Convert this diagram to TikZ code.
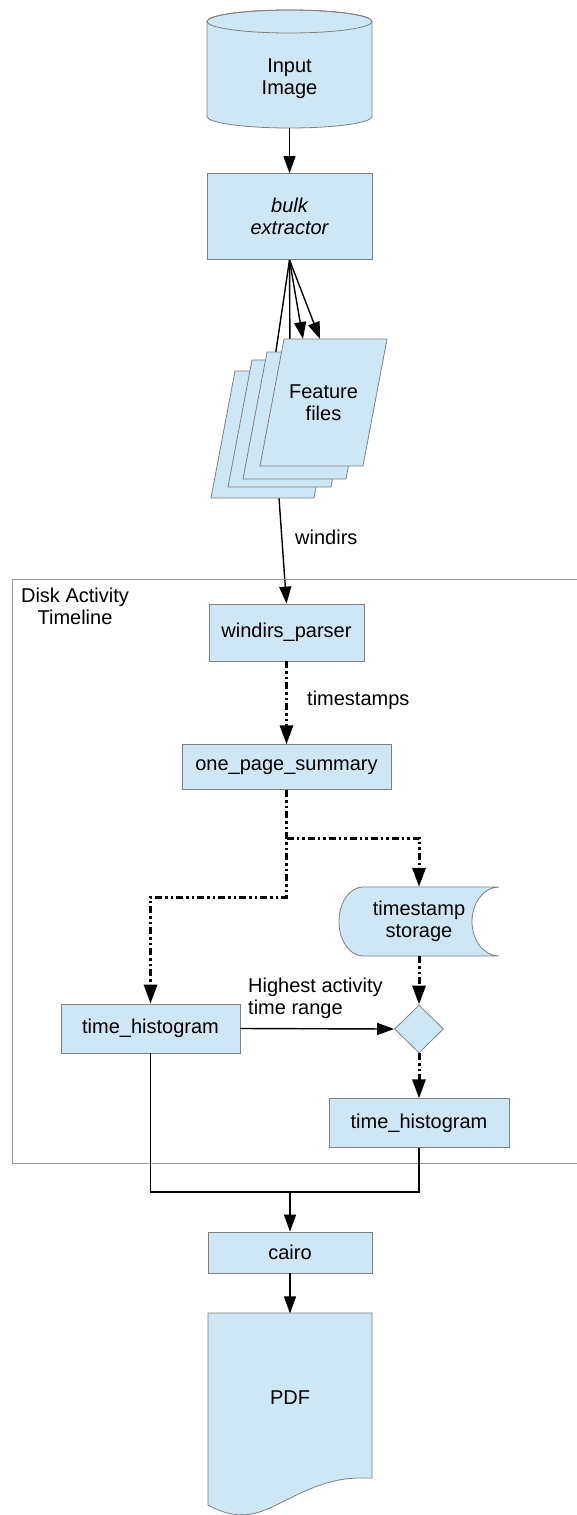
\documentclass[tikz,border=0pt]{standalone}
\usepackage{fontspec}
\setmainfont{Liberation Sans}
\usepackage{xcolor}
\usetikzlibrary{positioning}
\usetikzlibrary{shapes.geometric}
\usetikzlibrary{arrows.meta}
\usetikzlibrary{backgrounds}
\newcommand{\diagfont}{\fontsize{20}{22}\selectfont}
\definecolor{boxcolor}{RGB}{207, 231, 245}
\definecolor{edgecolor}{RGB}{128, 128, 128}
\definecolor{framecolor}{RGB}{150, 150, 150}
\tikzstyle{block} = [rectangle, draw=edgecolor, fill=boxcolor, line width=0.8pt, inner sep=0pt, align=center]
\tikzstyle{decision} = [diamond, draw=edgecolor, fill=boxcolor, line width=0.8pt, minimum width=49pt, minimum height=48pt, inner sep=0pt]
\tikzstyle{textonly} = [inner sep=0pt, align=center]
\tikzstyle{outline} = [draw=edgecolor, fill=boxcolor, line width=0.8pt]
\tikzstyle{flow} = [-{Triangle[length=17pt, width=12pt]}, line width=1.4pt]
\tikzstyle{dataflow} = [-{Triangle[length=19pt, width=13pt]}, line width=3pt, dash pattern=on 7pt off 3pt on 2.5pt off 3pt on 2.5pt off 3pt]
\tikzstyle{wire} = [line width=1.4pt]
\begin{document}
\begin{tikzpicture}[x=1pt, y=-1pt, font=\diagfont]
	\useasboundingbox (0,0) rectangle (577,1515);

	%
	% Input and extraction

	% Maps
	\draw[outline] (207,21.5) -- (207,116.5) arc[start angle=180, end angle=0, x radius=82.5, y radius=11.5] -- (372,21.5) arc[start angle=0, end angle=-180, x radius=82.5, y radius=11.5] -- cycle;
	\draw[edgecolor, line width=0.8pt] (289.5,21.5) ellipse [x radius=82.5, y radius=11.5];
	\node[textonly, minimum width=165pt, minimum height=98pt] (img) at (289.5,79) {Input\\Image};
	\node[block, minimum width=165pt, minimum height=86pt, below=45pt of img, font=\diagfont\itshape] (bulk) {bulk\\extractor};

	% Feature files, back to front
	\foreach \name/\dx/\dy in {ff4/-49/32, ff3/-32/21, ff2/-17/13, ff1/0/0} {
		\draw[outline] (284+\dx,339+\dy) -- (387+\dx,339+\dy) -- (363+\dx,466+\dy) -- (260+\dx,466+\dy) -- cycle;
		\coordinate (\name) at (284+\dx,339+\dy);
	}
	\coordinate (ff4c) at (274.5,434.5);
	\node[textonly] (files) at (323.5,402.5) {Feature\\files};

	% Arrows
	\draw[flow] (img) -- (bulk);
	\begin{scope}[on background layer]
		\draw[flow] (bulk.south) -- ([xshift=38pt]ff4);
		\draw[flow] (bulk.south) -- ([xshift=38pt]ff3);
		\draw[flow] (bulk.south) -- ([xshift=19pt]ff1);
		\draw[flow] (bulk.south) -- ([xshift=36pt]ff1);
	\end{scope}

	%
	% Disk activity timeline

	\draw[framecolor, line width=1pt] (12.5,579) rectangle (590,1163);
	\node[textonly] (framelabel) at (75,606) {Disk Activity\\Timeline};

	% Maps
	\node[block, minimum width=155pt, minimum height=57pt] (parser) at (286.5,632.5) {windirs\_parser};
	\node[block, minimum width=209pt, minimum height=45pt, below=83pt of parser] (summary) {one\_page\_summary};
	\draw[outline] (363,887) -- (499,887) arc[start angle=270, end angle=90, x radius=27, y radius=34.5] -- (363,956) arc[start angle=90, end angle=270, x radius=24, y radius=34.5] -- cycle;
	\node[textonly, minimum width=160pt, minimum height=69pt] (store) at (419,921.5) {timestamp\\storage};
	\node[block, minimum width=179pt, minimum height=49pt] (hist1) at (150.5,1028.5) {time\_histogram};
	\node[decision] (dia) at (419,1029) {};
	\node[block, minimum width=180pt, minimum height=49pt, below=45pt of dia] (hist2) {time\_histogram};

	% Arrows
	\begin{scope}[on background layer]
		\draw[flow] (ff4c) -- (parser.north);
	\end{scope}
	\node[textonly, anchor=west] (windirslabel) at (295,537) {windirs};
	\draw[dataflow] (parser) -- (summary);
	\node[textonly, anchor=west] (tslabel) at (307,700) {timestamps};
	\coordinate (split) at (286.5,838);
	\coordinate (bend) at (286.5,897);
	\draw[dataflow] (summary.south) -- (bend) -| (hist1.north);
	\draw[dataflow] (split) -| (store.north);
	\draw[dataflow] (store.south) -- (dia.north);
	\draw[flow] (hist1.east) -- (dia.west);
	\node[textonly, align=left, anchor=west] (rangelabel) at (248,998) {Highest activity\\time range};
	\draw[dataflow] (dia) -- (hist2);

	%
	% Output

	\node[block, minimum width=164pt, minimum height=41pt] (cairo) at (290,1252.5) {cairo};
	\node[textonly, minimum width=164pt, minimum height=168pt, below=40pt of cairo] (pdf) {PDF};
	\begin{scope}[on background layer]
		\draw[outline] (208,1313) -- (372,1313) -- (372,1478) -- (360,1478) .. controls (320,1478) and (290,1500) .. (265,1510) .. controls (245,1518) and (228,1516) .. (208,1505) -- cycle;
	\end{scope}

	% Arrows
	\coordinate (join) at (290,1192);
	\draw[wire] (hist1.south) |- (join);
	\draw[wire] (hist2.south) |- (join);
	\draw[flow] (join) -- (cairo);
	\draw[flow] (cairo) -- (pdf);

\end{tikzpicture}
\end{document}
